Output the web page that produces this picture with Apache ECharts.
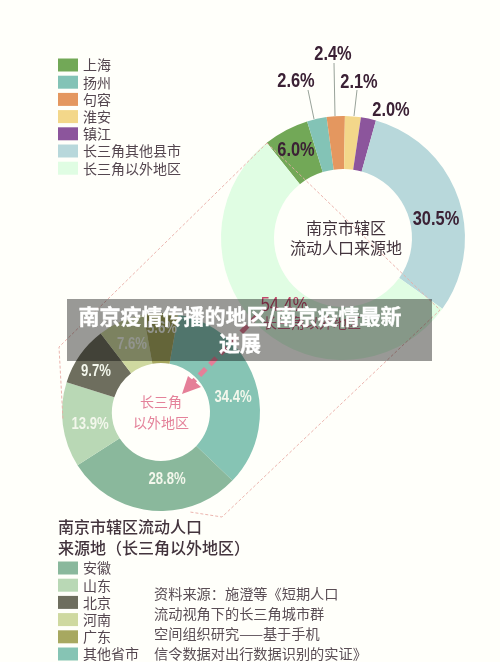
<!DOCTYPE html>
<html><head><meta charset="utf-8">
<style>html,body{margin:0;padding:0;background:#fffffa}#c{width:500px;height:662px}</style>
<script src="https://cdn.jsdelivr.net/npm/echarts@6/dist/echarts.min.js"></script>
</head><body><div id="c"></div>
<script>
const topNames = ['上海','扬州','句容','淮安','镇江','长三角其他县市','长三角以外地区'];
const topValues = [6.0,2.6,2.4,2.1,2.0,30.5,54.4];
const bottomNames = ['其他省市','安徽','山东','北京','河南','广东'];
const bottomValues = [34.4,28.8,13.9,9.7,7.6,5.6];
const bottomLegendOrder = ['安徽','山东','北京','河南','广东','其他省市'];
const sourceLines = ['资料来源：施澄等《短期人口','流动视角下的长三角城市群','空间组织研究——基于手机','信令数据对出行数据识别的实证》'];

const topColors = ['#72a857','#83c3b6','#e4975f','#f3d78a','#8c559c','#b8d8db','#e0fde3'];
const bottomColors = ['#86c4b4','#8ab89c','#b9d8b5','#6e6e5e','#cfd9a0','#a7a860'];
const topSpots = [[296,150],[296,81],[333,54],[359,82],[391,110],[436,219],[284,305]];
const bottomSpots = [[233,398],[167,480],[90,425],[96,372],[132,345],[162,329]];
const CJK = '"Noto Sans CJK SC","Noto Sans",sans-serif';
const NUM = '"Liberation Sans",sans-serif';
const INK = '#43343d';

function pie(names, values, colors, center, radius, startAngle){
  return {
    type:'pie', center, radius, startAngle, z:2, silent:true, animation:false,
    avoidLabelOverlap:false,
    data:names.map((n,i)=>({name:n,value:values[i],itemStyle:{color:colors[i]}})),
    label:{show:false},
    labelLine:{show:false},
    emphasis:{disabled:true}
  };
}
function txt(text,x,y,size,color,extra){
  return {type:'text',z:5,silent:true,style:Object.assign({text,x,y,fontSize:size,fill:color,fontFamily:CJK,
    align:'center',verticalAlign:'middle'},extra||{})};
}
function pct(value,spot,size,color,weight){
  return {type:'text',z:5,silent:true,x:spot[0],y:spot[1],scaleX:0.82,
    style:{text:value.toFixed(1)+'%',x:0,y:0,fontSize:size,fill:color,fontFamily:NUM,fontWeight:weight||'bold',
      align:'center',verticalAlign:'middle'}};
}
function seg(points,stroke,width,dash){
  return {type:'polyline',z:4,silent:true,shape:{points},style:{stroke,lineWidth:width,lineDash:dash,fill:null}};
}
const dashColor='#e9ada6';
const graphics=[
  seg([[267,143],[59,347],[63,420]],dashColor,0.9,[3,2]),
  seg([[267,143],[440,310],[222,517],[190,512]],dashColor,0.9,[3,2]),
  seg([[258,315],[192,383]],'#e57f98',5,[9,6]),
  {type:'polygon',z:4,silent:true,shape:{points:[[182,394],[188,376],[194,381],[201,387]]},style:{fill:'#e57f98'}},
  seg([[308,90],[314,119]],'#7d8a80',0.8),
  seg([[334,63],[335,116]],'#7d8a80',0.8),
  seg([[357,90],[354,116]],'#7d8a80',0.8),
  ...topValues.map((v,i)=>i===6?pct(v,topSpots[i],20,'#c2486a','normal'):pct(v,topSpots[i],20,'#3b2135')),
  ...bottomValues.map((v,i)=>pct(v,bottomSpots[i],16,'#f3f7ec')),
  txt('南京市辖区',346,228,16,INK),
  txt('流动人口来源地',346,248,16,INK),
  txt('长三角',161,402,14,'#e4829a'),
  txt('以外地区',161,423,14,'#e4829a'),
  txt('长三角以外地区',312,323,14,'#c9607e'),
  txt('南京市辖区流动人口',58,527,16,INK,{align:'left',fontWeight:500}),
  txt('来源地（长三角以外地区）',58,548,16,INK,{align:'left',fontWeight:500}),
  ...sourceLines.map((s,i)=>txt(s,154,594+i*19.8,14.2,'#5a4e55',{align:'left'})),
  {type:'rect',z:10,silent:true,shape:{x:67,y:299,width:365,height:62},style:{fill:'rgba(0,0,0,0.4)'}},
  txt('南京疫情传播的地区/南京疫情最新',240,316,21,'#ffffff',{fontWeight:'bold',stroke:'#ffffff',lineWidth:0.4}),
  txt('进展',240,343,21,'#ffffff',{fontWeight:'bold',stroke:'#ffffff',lineWidth:0.4})
];
graphics.slice(-2).forEach(g=>{g.z=11;});

const chart=echarts.init(document.getElementById('c'),null,{renderer:'canvas'});
const legendBase={orient:'vertical',icon:'rect',itemWidth:20,itemHeight:13,itemGap:3.2,selectedMode:false,height:130,
  textStyle:{fontFamily:CJK,fontSize:14,color:'#54464f',lineHeight:13},padding:0};
chart.setOption({
  animation:false,
  backgroundColor:'#fffffa',
  legend:[
    Object.assign({},legendBase,{left:58,top:58,data:topNames}),
    Object.assign({},legendBase,{left:58,top:561,data:bottomLegendOrder})
  ],
  series:[
    pie(topNames,topValues,topColors,[343,238],[69,122],128.7),
    pie(bottomNames,bottomValues,bottomColors,[161,412],[49,99],80)
  ],
  graphic:{elements:graphics}
});
</script></body></html>
